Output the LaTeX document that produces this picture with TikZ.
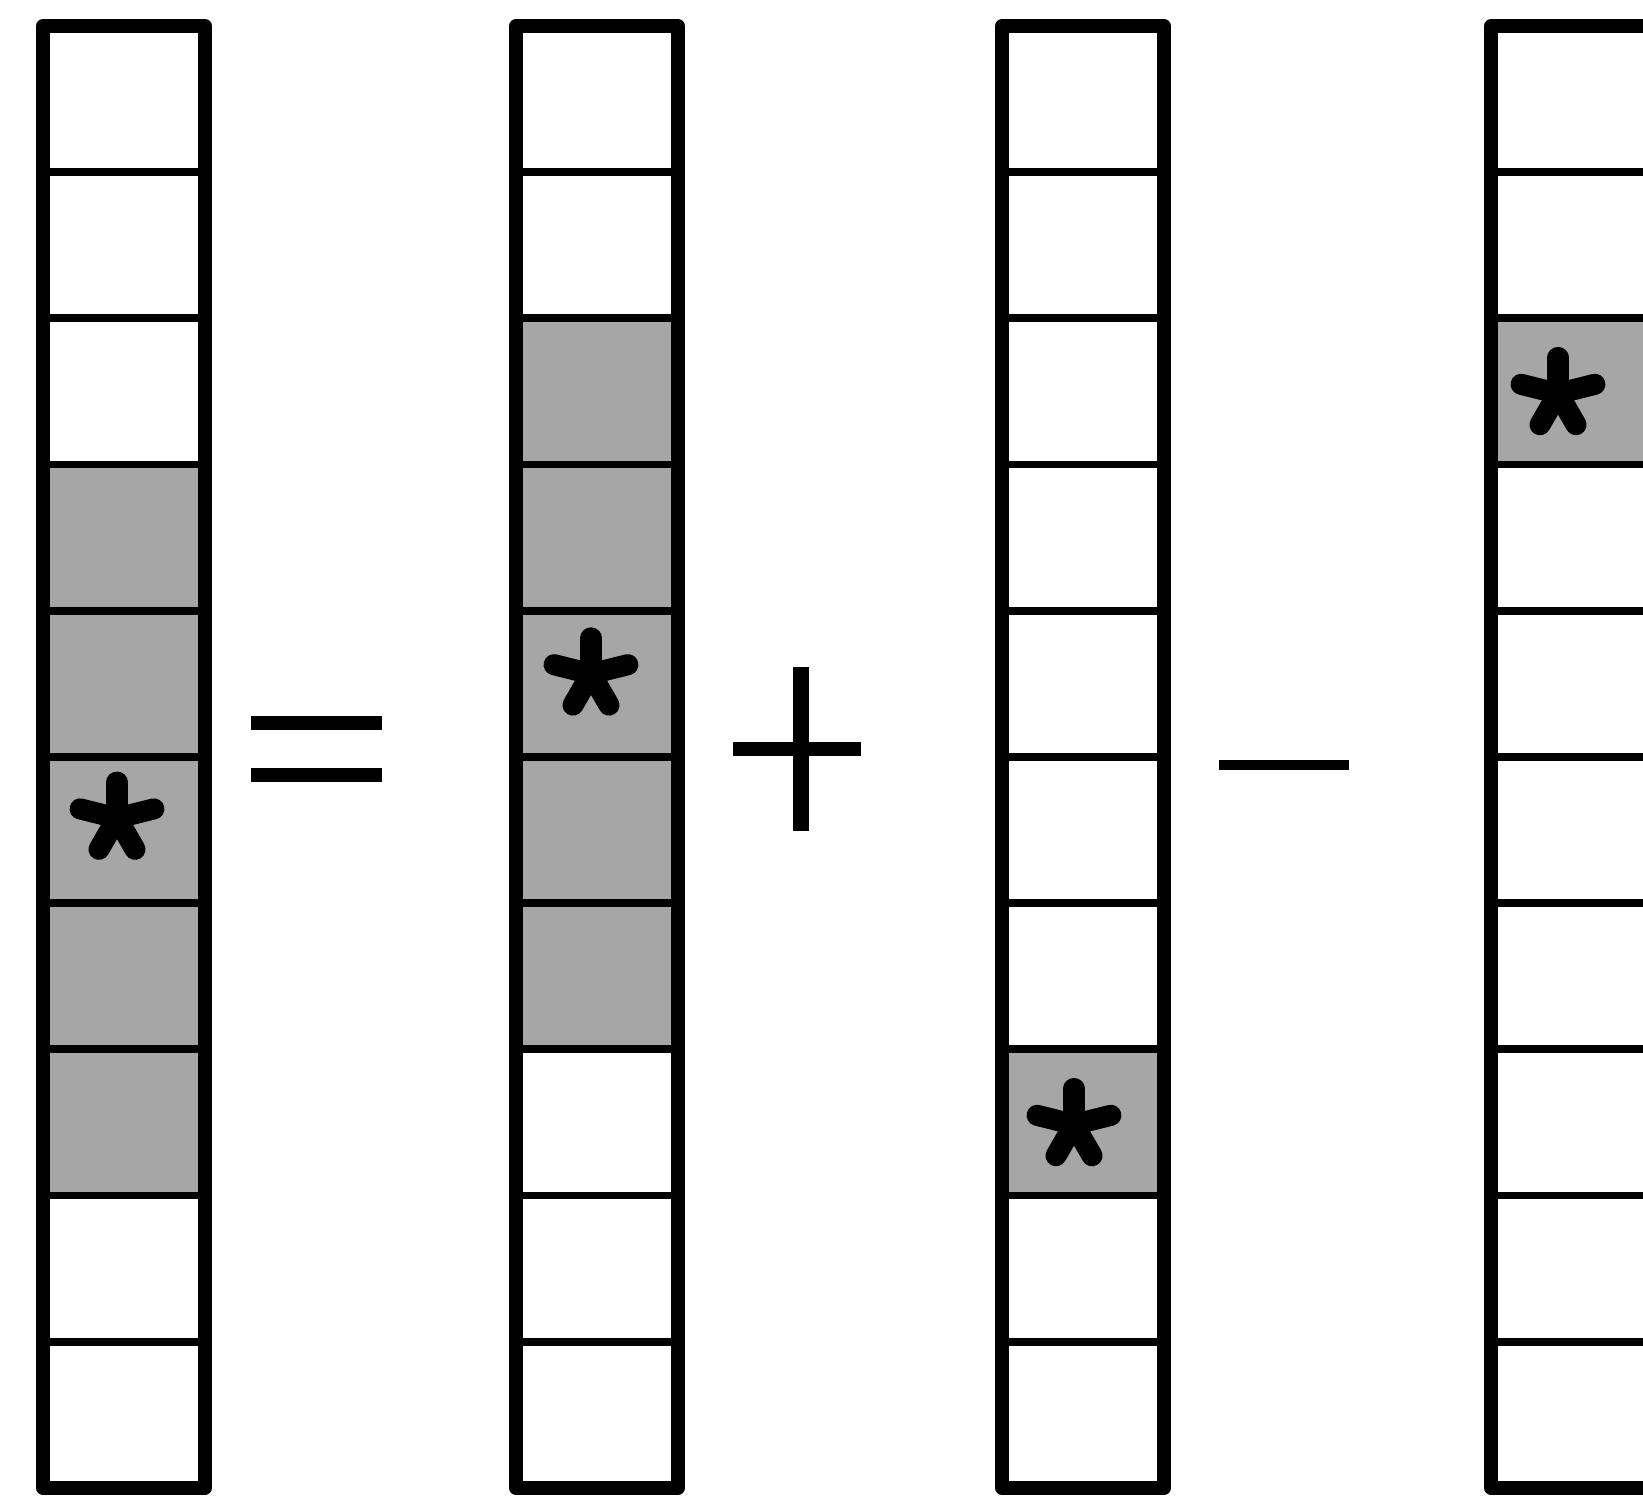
\documentclass[tikz,border=0pt]{standalone}
\tikzset{
  cellbox/.style={draw=black, line width=2.2pt, minimum width=1.62cm, minimum height=1.462cm, inner sep=0pt, outer sep=0pt},
  frame/.style={draw=black, line width=3.8pt, line join=round},
  eqbar/.style={line width=3.7pt},
  armstyle/.style={line width=6pt, line cap=round},
  astar/.pic={\foreach \a/\r in {90/0.36,14/0.38,166/0.38,-60/0.36,-120/0.36} \draw[armstyle] (0,0) -- (\a:\r cm);}
}
\begin{document}
\begin{tikzpicture}[x=0.01cm,y=-0.01cm]
\useasboundingbox (0,0) rectangle (1643,1507);
\clip (0,0) rectangle (1643,1507);
\foreach \c/\L/\sa/\sb in {1/43/4/8, 2/516/3/7, 3/1002/8/8, 4/1491/3/3} {
  \foreach \k in {1,...,10} {
    \pgfmathtruncatemacro\isS{(\k>=\sa)&&(\k<=\sb)}
    \ifnum\isS=1 \def\fillc{black!35}\else\def\fillc{white}\fi
    \node[cellbox, fill=\fillc] (col\c-\k) at ({\L+81},{26+146.2*(\k-0.5)}) {};
  }
  \draw[frame] (col\c-1.north west) rectangle (col\c-10.south east);
}
% stars
\pic at ([xshift=-0.07cm,yshift=0.12cm]col1-6.center) {astar};
\pic at ([xshift=-0.06cm,yshift=0.1cm]col2-5.center) {astar};
\pic at ([xshift=-0.09cm,yshift=-0.02cm]col3-8.center) {astar};
\pic at ([xshift=-0.14cm,yshift=-0.02cm]col4-3.center) {astar};
% equals
\coordinate (eqa1) at (251,723); \coordinate (eqa2) at (382,723);
\coordinate (eqb1) at (251,775); \coordinate (eqb2) at (382,775);
\draw[eqbar] (eqa1) -- (eqa2);
\draw[eqbar] (eqb1) -- (eqb2);
% plus
\coordinate (plv1) at (801,667); \coordinate (plv2) at (801,831);
\coordinate (plh1) at (733,749); \coordinate (plh2) at (861,749);
\draw[line width=4.4pt] (plv1) -- (plv2);
\draw[eqbar] (plh1) -- (plh2);
% minus
\coordinate (mi1) at (1219,765); \coordinate (mi2) at (1349,765);
\draw[line width=2.9pt] (mi1) -- (mi2);
\end{tikzpicture}
\end{document}
